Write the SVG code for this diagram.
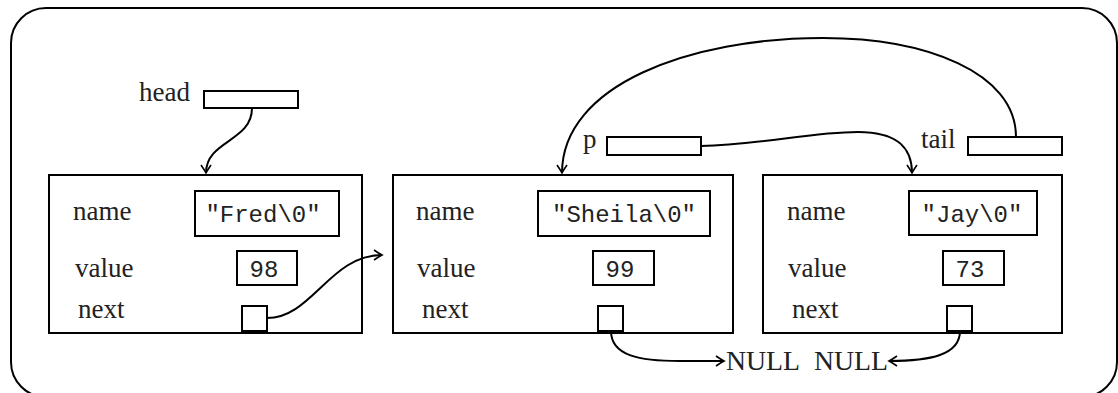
<svg xmlns="http://www.w3.org/2000/svg" width="1118" height="393" viewBox="0 0 1118 393">
<defs>
<style>
.box{fill:#fff;stroke:#000;stroke-width:2}
.lbl{font-family:"Liberation Serif","DejaVu Serif",serif;font-size:27px;fill:#222}
.mono{font-family:"Liberation Mono","DejaVu Sans Mono",monospace;font-size:24px;fill:#222;text-anchor:middle}
.con{fill:none;stroke:#000;stroke-width:2}
</style>
<marker id="arr" markerUnits="userSpaceOnUse" markerWidth="16" markerHeight="16" viewBox="-10 -8 12 16" refX="0" refY="0" orient="auto">
<path d="M-8,-5 Q-3,-1.5 0,0 Q-3,1.5 -8,5" fill="none" stroke="#000" stroke-width="1.6"/>
</marker>
</defs>
<rect x="11" y="8" width="1106" height="389" rx="35" ry="35" fill="#fff" stroke="#000" stroke-width="2"/>

<g id="head">
<text class="lbl" x="139" y="101">head</text>
<rect class="box" x="204" y="91" width="94" height="17"/>
</g>
<g id="p">
<text class="lbl" x="583" y="148">p</text>
<rect class="box" x="607" y="137" width="94" height="18"/>
</g>
<g id="tail">
<text class="lbl" x="921" y="148">tail</text>
<rect class="box" x="968" y="137" width="94" height="18"/>
</g>

<g id="node1">
<rect class="box" x="49" y="175" width="313" height="158"/>
<text class="lbl" x="73" y="220">name</text>
<text class="lbl" x="75" y="277">value</text>
<text class="lbl" x="78" y="318">next</text>
<rect class="box" x="195" y="191" width="144" height="45"/>
<text class="mono" x="263" y="222">"Fred\0"</text>
<rect class="box" x="237" y="251" width="60" height="34"/>
<text class="mono" x="264" y="277">98</text>
<rect class="box" x="242" y="306" width="25" height="25"/>
</g>

<g id="node2">
<rect class="box" x="393" y="175" width="340" height="158"/>
<text class="lbl" x="416" y="220">name</text>
<text class="lbl" x="417" y="277">value</text>
<text class="lbl" x="422" y="318">next</text>
<rect class="box" x="538" y="191" width="172" height="45"/>
<text class="mono" x="624" y="222">"Sheila\0"</text>
<rect class="box" x="593" y="251" width="61" height="34"/>
<text class="mono" x="620" y="277">99</text>
<rect class="box" x="598" y="306" width="25" height="25"/>
</g>

<g id="node3">
<rect class="box" x="763" y="175" width="299" height="158"/>
<text class="lbl" x="787" y="220">name</text>
<text class="lbl" x="788" y="277">value</text>
<text class="lbl" x="792" y="318">next</text>
<rect class="box" x="909" y="191" width="128" height="44"/>
<text class="mono" x="972" y="222">"Jay\0"</text>
<rect class="box" x="943" y="251" width="61" height="34"/>
<text class="mono" x="970" y="277">73</text>
<rect class="box" x="947" y="306" width="25" height="25"/>
</g>

<g id="null">
<text class="lbl" x="726" y="370" textLength="74" lengthAdjust="spacingAndGlyphs">NULL</text>
<text class="lbl" x="814" y="370" textLength="74" lengthAdjust="spacingAndGlyphs">NULL</text>
</g>

<g id="connectors">
<path class="con" marker-end="url(#arr)" d="M252,108 C252,142 206,140 206,173"/>
<path class="con" marker-end="url(#arr)" d="M267,318 C312,318 330,255 382,255"/>
<path class="con" marker-end="url(#arr)" d="M701,146 C760,145 810,132 858,132 C900,132 912,150 912,173"/>
<path class="con" marker-end="url(#arr)" d="M1016,137 C1016,72 925,38 823,38 C690,38 562,85 562,173"/>
<path class="con" marker-end="url(#arr)" d="M611,331 C611,356 640,361 680,361 L724,361"/>
<path class="con" marker-end="url(#arr)" d="M960,331 C960,355 930,361 889,361"/>
</g>
</svg>
